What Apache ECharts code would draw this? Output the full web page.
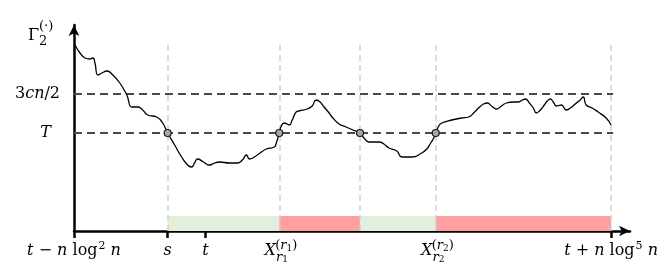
<!DOCTYPE html>
<html>
<head>
<meta charset="utf-8">
<script src="https://cdn.jsdelivr.net/npm/echarts@6/dist/echarts.min.js"></script>
<style>
html,body{margin:0;padding:0;background:#fff;}
#c{width:661px;height:272px;}
</style>
</head>
<body>
<div id="c"></div>
<script>
// ---- data (x: time units from t - n log^2 n, y: value of Gamma_2) ----
var curveX = [1,6,11,16,19,21,24,28,33,39,46,53,58,64,68,74,83,89,94,
  101,108,114,118,121,124,130,136,141,146,156,164,169,173,176,184,193,201,203,206,
  208,211,216,219,223,226,234,239,243,247,251,256,259,266,273,280,287,
  291,296,306,311,316,324,329,339,349,354,358,361,363,
  366,369,379,389,396,402,406,411,415,419,424,429,434,441,446,450,453,457,461,464,467,
  472,475,478,481,484,489,494,498,503,508,511,514,520,526,534,539];
var curveY = [186,178,173,172,173,168,156,158,160,156,148,136,124,124,122,116,114,108,98,
  86,74,66,64,68,72,69,66,68,69,68,68,71,76,72,76,82,84,88,98,
  105,108,106,111,119,120,122,125,131,129,124,118,114,107,104,101,98,
  93,89,89,87,83,80,74,74,78,82,88,93,98,
  105,108,111,113,114,119,123,127,128,125,122,125,128,129,129,131,132,128,123,118,120,
  126,130,132,129,125,126,121,123,127,131,134,126,123,119,113,106];

var levelT = 98;
var level3cn2 = 137;
var levelLineEnd = 541;
var crossingX = [94, 206, 287, 363];
var guideX = [94, 206, 287, 363, 539];
var guideTop = 188;
var bandStart = [94, 206, 287, 363];
var bandEnd   = [206, 287, 363, 539];
var bandKind  = ['good', 'bad', 'good', 'bad'];
var bandHeight = 15;

var xTickValues = [0, 94, 132, 539];
var xLabelValues = [0, 94, 132, 206, 363, 539];
var xLabelTexts = ['{i|t} − {i|n} log{sup|2} {i|n}', '{i|s}', '{i|t}',
  '{i|X}{sr|r}{sd|1}{gap|}', '{i|X}{sr|r}{sd|2}{gap|}', '{i|t} + {i|n} log{sup|5} {i|n}'];
var xSupValues = [206, 363];
var xSupTexts = ['({i|r}{d|1})', '({i|r}{d|2})'];
var yLabelValues = [98, 137];
var yLabelTexts = ['{it|T}', '3{i|cn}/2'];

var XMAX = 558, YMAX = 206;
var FF = 'DejaVu Serif';

var curve = curveX.map(function (x, i) { return [x, curveY[i]]; });
var crossings = crossingX.map(function (x) { return [x, levelT]; });
var colors = { good: '#e2efda', bad: '#ff9f9f' };

var rich = {
  i: { fontFamily: FF, fontSize: 16, fontStyle: 'italic', color: '#000', lineHeight: 20 },
  sup: { fontFamily: FF, fontSize: 11, color: '#000', lineHeight: 20, padding: [0, 0, 10, 1] },
  sr: { fontFamily: FF, fontSize: 13, fontStyle: 'italic', color: '#000', lineHeight: 20, padding: [14, 0, 0, 0] },
  sd: { fontFamily: FF, fontSize: 9, color: '#000', lineHeight: 20, padding: [18, 0, 0, 0] },
  gap: { width: 6, lineHeight: 20 },
  it: { fontFamily: FF, fontSize: 16, fontStyle: 'italic', color: '#000', padding: [0, 9, 0, 0] }
};

var chart = echarts.init(document.getElementById('c'), null, { renderer: 'canvas' });
chart.setOption({
  animation: false,
  backgroundColor: '#fff',
  grid: { left: 74, right: 29, top: 25, bottom: 41, containLabel: false },
  xAxis: [{
    type: 'value', min: 0, max: XMAX, position: 'bottom',
    axisLine: { show: true, onZero: false, lineStyle: { color: '#000', width: 2.5 }, symbol: ['none', 'arrow'], symbolSize: [8, 11] },
    axisTick: { show: true, customValues: xTickValues, length: 7, lineStyle: { color: '#000', width: 2.5 } },
    axisLabel: {
      customValues: xLabelValues, margin: 10, fontFamily: FF, fontSize: 16, color: '#000', lineHeight: 20,
      formatter: function (v) { var k = xLabelValues.indexOf(v); return k >= 0 ? xLabelTexts[k] : ''; },
      rich: rich
    },
    splitLine: { show: false }
  }, {
    type: 'value', min: 0, max: XMAX, position: 'bottom',
    axisLine: { show: false }, axisTick: { show: false }, splitLine: { show: false },
    axisLabel: {
      customValues: xSupValues, margin: 7, fontFamily: FF, fontSize: 13, color: '#000', lineHeight: 16,
      padding: [0, 0, 0, 14],
      formatter: function (v) { var k = xSupValues.indexOf(v); return k >= 0 ? xSupTexts[k] : ''; },
      rich: {
        i: { fontFamily: FF, fontSize: 13, fontStyle: 'italic', color: '#000', lineHeight: 16 },
        d: { fontFamily: FF, fontSize: 9, color: '#000', lineHeight: 16, padding: [5, 0, 0, 0] }
      }
    }
  }],
  yAxis: {
    type: 'value', min: 0, max: YMAX,
    axisLine: { show: true, onZero: false, lineStyle: { color: '#000', width: 2.5 }, symbol: ['none', 'arrow'], symbolSize: [8, 11] },
    axisTick: { show: false },
    axisLabel: {
      customValues: yLabelValues, margin: 14, fontFamily: FF, fontSize: 16, color: '#000',
      formatter: function (v) { var k = yLabelValues.indexOf(v); return k >= 0 ? yLabelTexts[k] : ''; },
      rich: rich
    },
    splitLine: { show: false }
  },
  graphic: [
    { type: 'text', left: 28, top: 28, style: { text: 'Γ', font: '16px "DejaVu Serif"', fill: '#000' } },
    { type: 'text', left: 39, top: 35, style: { text: '2', font: '13px "DejaVu Serif"', fill: '#000' } },
    { type: 'text', left: 39, top: 20, style: { text: '(·)', font: '13px "DejaVu Serif"', fill: '#000' } }
  ],
  series: [
    {
      type: 'line', data: [], z: 1, silent: true,
      markLine: {
        silent: true, symbol: ['none', 'none'], label: { show: false },
        lineStyle: { color: '#cfcfcf', width: 1.5, type: [6, 4] },
        data: guideX.map(function (x) { return [{ coord: [x, 0] }, { coord: [x, guideTop] }]; })
      }
    },
    {
      type: 'line', data: [], z: 2, silent: true,
      markArea: {
        silent: true, label: { show: false },
        data: bandStart.map(function (s, i) {
          return [{ coord: [s, 0], itemStyle: { color: colors[bandKind[i]], opacity: 1 } }, { coord: [bandEnd[i], bandHeight] }];
        })
      }
    },
    {
      type: 'line', data: [], z: 3, silent: true,
      markLine: {
        silent: true, symbol: ['none', 'none'], label: { show: false },
        lineStyle: { color: '#4a4a4a', width: 2, type: [8, 5] },
        data: [levelT, level3cn2].map(function (y) { return [{ coord: [0, y] }, { coord: [levelLineEnd, y] }]; })
      }
    },
    {
      type: 'line', data: curve, z: 5, smooth: 0.5, showSymbol: false, silent: true,
      lineStyle: { color: '#000', width: 1.3 }
    },
    {
      type: 'scatter', data: crossings, z: 6, symbol: 'circle', symbolSize: 7, silent: true,
      itemStyle: { color: '#a8a8a8', borderColor: '#1a1a1a', borderWidth: 1.2, opacity: 1 }
    }
  ]
});
</script>
</body>
</html>
